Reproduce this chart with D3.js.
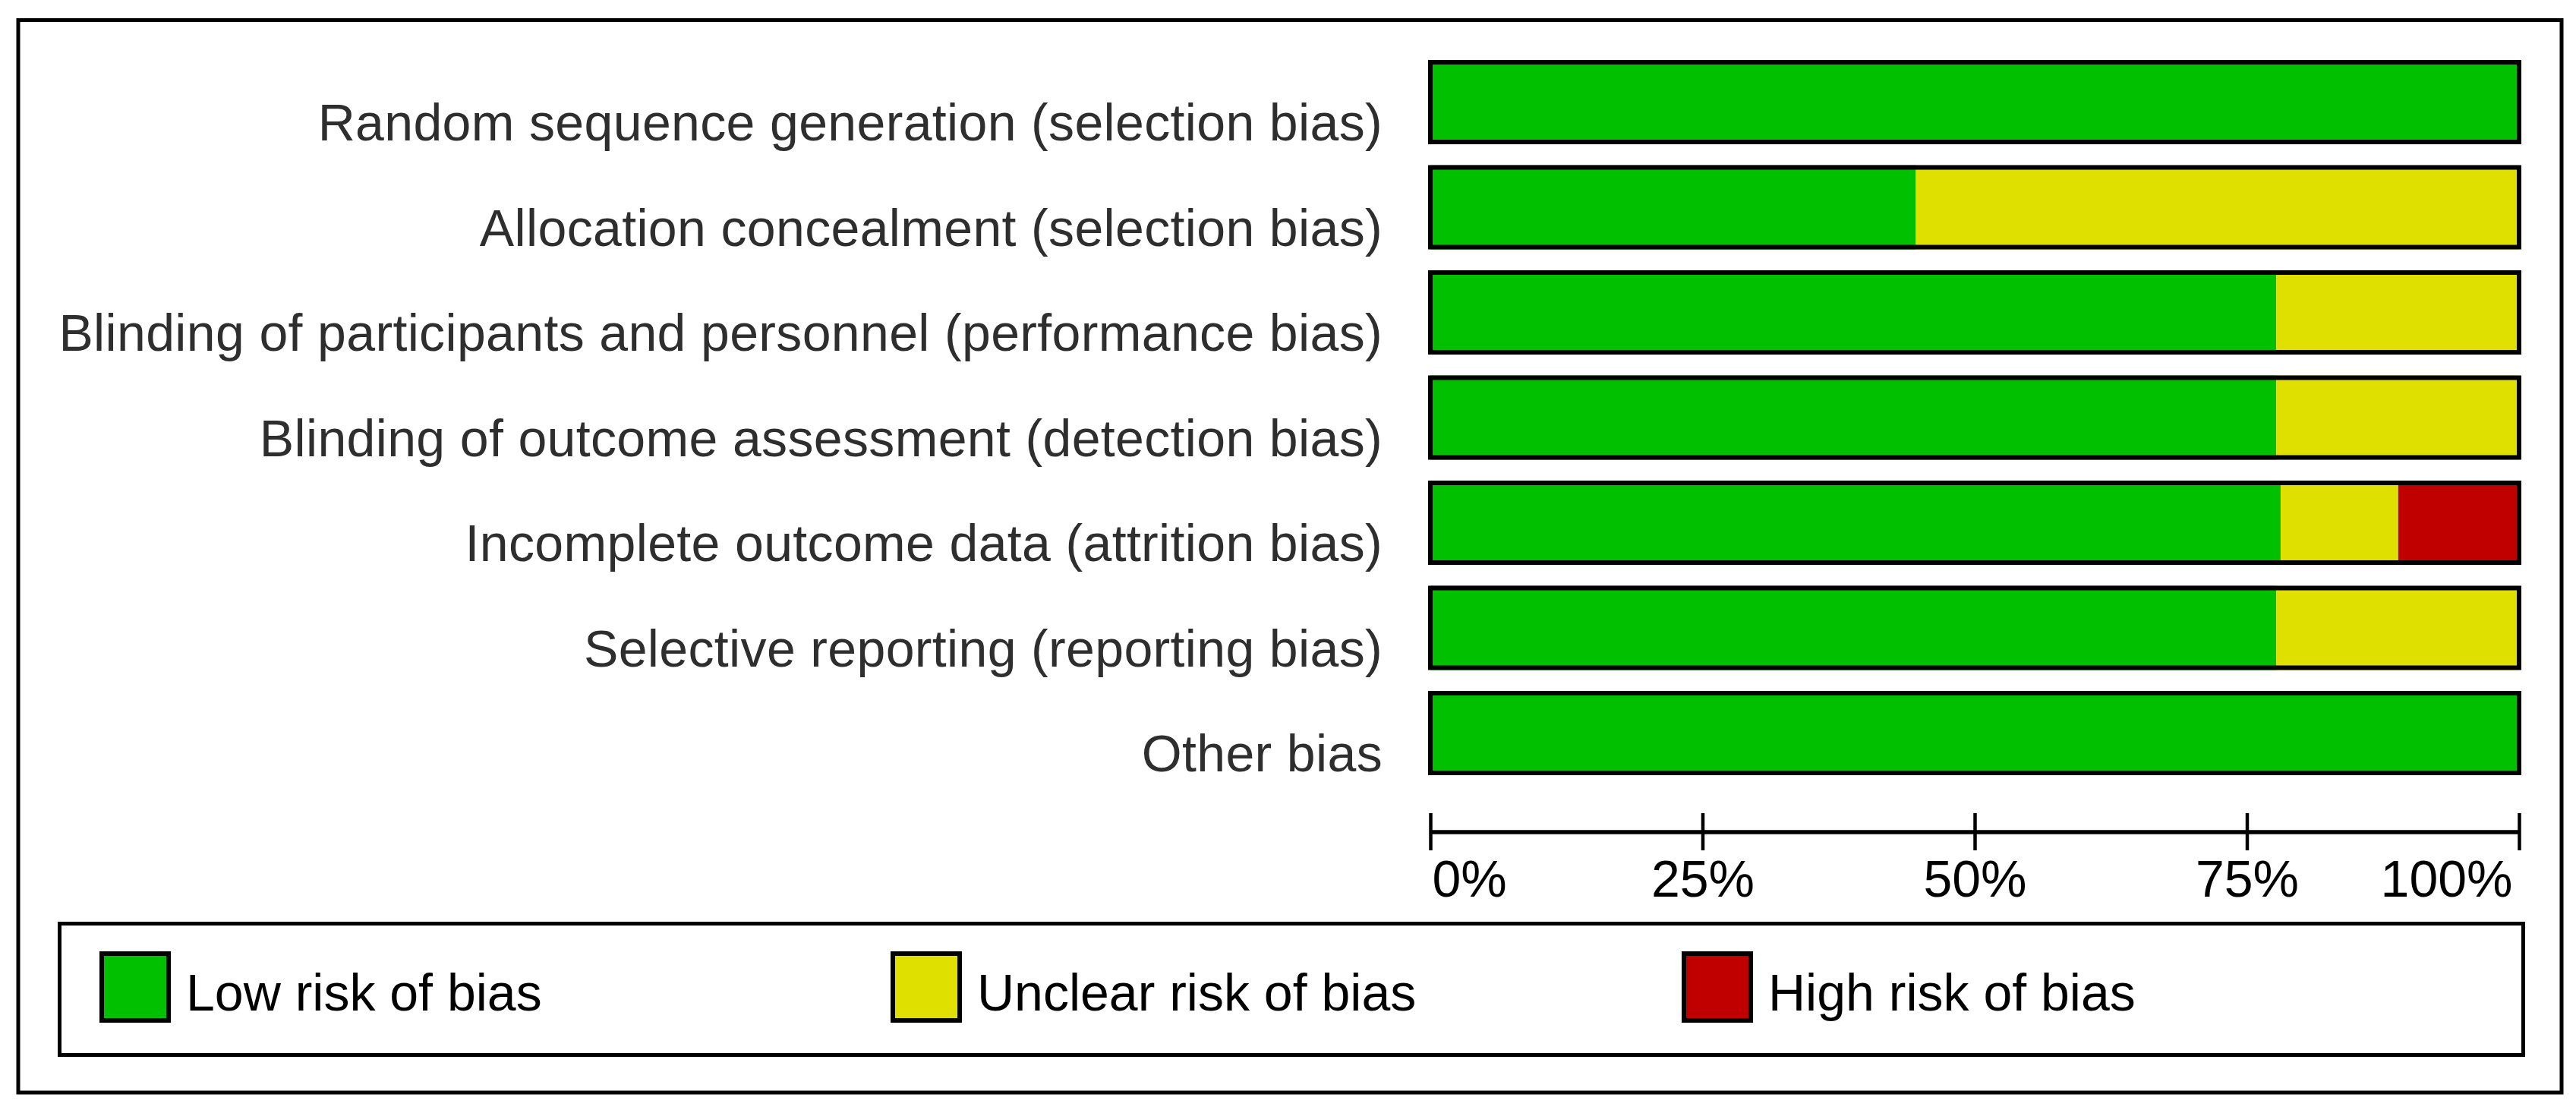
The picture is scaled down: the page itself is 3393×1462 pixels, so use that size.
<!DOCTYPE html>
<html>
<head>
<meta charset="utf-8">
<script src="https://cdn.jsdelivr.net/npm/d3@7"></script>
<style>
  html, body { margin: 0; padding: 0; background: #fff; }
  svg { display: block; }
</style>
</head>
<body>
<svg id="chart" width="3393" height="1462"></svg>
<script>
const categories = [
  "Random sequence generation (selection bias)",
  "Allocation concealment (selection bias)",
  "Blinding of participants and personnel (performance bias)",
  "Blinding of outcome assessment (detection bias)",
  "Incomplete outcome data (attrition bias)",
  "Selective reporting (reporting bias)",
  "Other bias"
];
const lowRisk     = [100, 44.6, 77.7, 77.7, 78.1, 77.7, 100];
const unclearRisk = [0, 55.4, 22.3, 22.3, 10.8, 22.3, 0];
const highRisk    = [0, 0, 0, 0, 11.1, 0, 0];
const tickValues = [0, 25, 50, 75, 100];
const tickLabels = ["0%", "25%", "50%", "75%", "100%"];
const legendLabels = ["Low risk of bias", "Unclear risk of bias", "High risk of bias"];
const riskColors = ["#00C000", "#E0E000", "#C00000"];

const FONT = "'Liberation Sans', Arial, sans-serif";
const svg = d3.select("#chart");

svg.append("rect").attr("width", 3393).attr("height", 1462).attr("fill", "#fff");

// outer frame
svg.append("rect")
  .attr("x", 24).attr("y", 26.5).attr("width", 3350).attr("height", 1412.5)
  .attr("fill", "none").attr("stroke", "#000").attr("stroke-width", 5);

const x = d3.scaleLinear().domain([0, 100]).range([1884, 3318]);
const y = d3.scaleBand().domain(categories).range([79, 1021]).paddingInner(0.1986).paddingOuter(0);

const rows = categories.map((c, i) => {
  const vals = [lowRisk[i], unclearRisk[i], highRisk[i]];
  let acc = 0;
  const segs = vals.map((v, k) => { const s = {start: acc, end: acc + v, k}; acc += v; return s; });
  return {cat: c, segs};
});

const rowG = svg.append("g").selectAll("g").data(rows).join("g");

rowG.selectAll("rect.seg")
  .data(d => d.segs.filter(s => s.end > s.start).map(s => ({...s, cat: d.cat})))
  .join("rect")
  .attr("class", "seg")
  .attr("x", s => x(s.start))
  .attr("width", s => x(s.end) - x(s.start))
  .attr("y", s => y(s.cat))
  .attr("height", y.bandwidth())
  .attr("fill", s => riskColors[s.k]);

rowG.append("rect")
  .attr("x", x(0))
  .attr("width", x(100) - x(0))
  .attr("y", d => y(d.cat) + 3)
  .attr("height", y.bandwidth() - 6)
  .attr("fill", "none")
  .attr("stroke", "#000")
  .attr("stroke-width", 6);

rowG.append("text")
  .attr("x", 1821)
  .attr("y", d => y(d.cat) + 106)
  .attr("text-anchor", "end")
  .attr("font-family", FONT)
  .attr("font-size", 68)
  .attr("letter-spacing", 0.35)
  .attr("fill", "#2e2e2e")
  .text(d => d.cat);

// axis
const axisG = svg.append("g").attr("transform", "translate(0,1096)")
  .call(d3.axisBottom(x).tickValues(tickValues).tickFormat((d, i) => tickLabels[i]).tickSize(24).tickSizeOuter(0));
axisG.select(".domain").attr("stroke", "#000").attr("stroke-width", 5.5)
  .attr("d", `M${x(0)},0H${x(100)}`);
axisG.selectAll(".tick line").attr("y1", -25).attr("y2", 24).attr("stroke", "#000").attr("stroke-width", 4.5);
axisG.selectAll(".tick text")
  .attr("y", 85).attr("dy", 0)
  .attr("font-family", FONT).attr("font-size", 68).attr("fill", "#000")
  .attr("text-anchor", (d, i) => i === 0 ? "start" : (i === tickValues.length - 1 ? "end" : "middle"))
  .attr("x", (d, i) => i === 0 ? 2 : (i === tickValues.length - 1 ? -9 : 0));

// legend
svg.append("rect")
  .attr("x", 78.5).attr("y", 1216.5).attr("width", 3245).attr("height", 173)
  .attr("fill", "none").attr("stroke", "#000").attr("stroke-width", 5);

const legendX = d3.scaleLinear().domain([0, 1]).range([131, 1173]);
const legG = svg.append("g").selectAll("g").data(legendLabels).join("g")
  .attr("transform", (d, i) => `translate(${legendX(i)},1253)`);
legG.append("rect")
  .attr("x", 3).attr("y", 3).attr("width", 88).attr("height", 88)
  .attr("fill", (d, i) => riskColors[i]).attr("stroke", "#000").attr("stroke-width", 6);
legG.append("text")
  .attr("x", 114).attr("y", 78)
  .attr("font-family", FONT).attr("font-size", 68).attr("fill", "#000")
  .text(d => d);
</script>
</body>
</html>
